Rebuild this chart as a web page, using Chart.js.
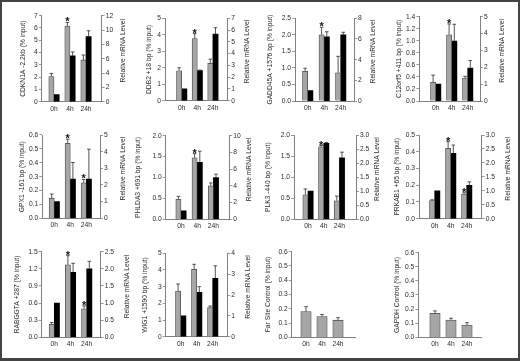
<!DOCTYPE html>
<html lang="en">
<head>
<meta charset="UTF-8">
<title>ChIP (% input) and relative mRNA over time</title>
<script src="https://cdn.jsdelivr.net/npm/chart.js"></script>
<style>
    * { margin: 0; padding: 0; box-sizing: border-box; }
    body { background: #fff; width: 520px; height: 361px; overflow: hidden; position: relative; }
    #frame { position: absolute; left: 0; top: 0; width: 520px; height: 361px; border: 2px solid #444; border-bottom-width: 3px; }
    canvas { position: absolute; }
</style>
</head>
<body>
<div id="frame"></div>
<script>
    const times = ['0h', '4h', '24h'];

    const titles = [
        'CDKN1A -2.2kb (% input)', 'DDB2 +18 bp (% input)', 'GADD45A +1576 bp (% input)', 'C12orf5 +411 bp (% input)',
        'GPX1 -161 bp (% input)', 'PHLDA3 +691 bp (% input)', 'PLK3 -440 bp (% input)', 'PRKAB1 +65 bp (% input)',
        'RABGGTA +287 (% input)', 'WIG1 +1590 bp (% input)', 'Far Site Control (% input)', 'GAPDH Control (% input)'
    ];
    const rightTitle = 'Relative mRNA Level';

    // grey bars: ChIP, % input (left axis)
    const chipVals = [
        [2.05, 6.15, 3.4], [1.82, 3.77, 2.27], [0.9, 2.0, 0.85], [0.31, 1.1, 0.38],
        [0.145, 0.54, 0.255], [0.48, 1.47, 0.8], [0.58, 1.72, 0.44], [0.108, 0.42, 0.147],
        [0.23, 1.27, 0.5], [2.74, 4.04, 1.74], [0.18, 0.145, 0.12], [0.17, 0.123, 0.087]
    ];
    const chipErr = [
        [0.25, 0.3, 0.4], [0.18, 0.3, 0.25], [0.09, 0.23, 0.5], [0.12, 0.18, 0.03],
        [0.03, 0.03, 0.025], [0.07, 0.1, 0.07], [0.14, 0.03, 0.11], [0.005, 0.04, 0.008],
        [0.03, 0.16, 0.05], [0.42, 0.3, 0.1], [0.035, 0.015, 0.018], [0.017, 0.012, 0.017]
    ];
    // black bars: relative mRNA (right axis); controls have none
    const mrnaVals = [
        [1.0, 6.4, 9.1], [1.0, 2.55, 5.65], [1.0, 6.2, 6.4], [1.0, 3.55, 1.95],
        [1.0, 2.35, 2.35], [1.0, 6.8, 5.0], [1.0, 2.7, 2.19], [1.0, 2.34, 1.2],
        [1.0, 1.9, 2.0], [1.0, 2.13, 2.8], null, null
    ];
    const mrnaErr = [
        [0, 0.55, 0.8], [0, 0.05, 0.55], [0, 0.5, 0.25], [0, 1.0, 0.45],
        [0, 1.0, 1.8], [0, 1.35, 0.4], [0, 0.03, 0.2], [0, 0.3, 0.12],
        [0, 0.26, 0.22], [0, 0.27, 0.6], null, null
    ];
    const starred = [
        [0, 1, 0], [0, 1, 0], [0, 1, 0], [0, 1, 0],
        [0, 1, 1], [0, 1, 0], [0, 1, 0], [0, 1, 1],
        [0, 1, 1], [0, 0, 0], [0, 0, 0], [0, 0, 0]
    ];

    // axis ticks: [max, step, decimals]
    const leftTicks = [
        [7, 1, 0], [5, 1, 0], [2.5, 0.5, 1], [1.4, 0.2, 1],
        [0.6, 0.1, 1], [2.0, 0.5, 1], [2.0, 0.5, 1], [0.5, 0.1, 1],
        [1.5, 0.3, 1], [5, 1, 0], [0.6, 0.1, 1], [0.6, 0.1, 1]
    ];
    const rightTicks = [
        [12, 2, 0], [7, 1, 0], [8, 2, 0], [5, 1, 0],
        [5, 1, 0], [10, 2, 0], [3.0, 0.5, 1], [3.0, 0.5, 1],
        [2.5, 0.5, 1], [4, 1, 0], null, null
    ];

    // page layout per panel: left axis x, right axis x, top y, zero y, 0h group x, group gap, title offsets
    const boxes = [
        [41.8, 101.7, 15.7, 101.7, 54, 16, 19, 21.3],
        [165, 227.3, 18.3, 100.7, 181.7, 15.6, 16, 20],
        [295, 354, 18.3, 101, 307.7, 16.5, 25, 19.3],
        [419.3, 480, 16.7, 101, 435.7, 16, 20, 22.3],
        [42.3, 100, 135, 218.3, 54.3, 16, 20, 22.7],
        [165.7, 229.3, 135.7, 219.3, 181, 16.2, 28, 19.7],
        [294, 356, 135, 219.3, 308, 15.7, 25.5, 20.7],
        [419, 481.7, 135, 218.7, 434.7, 16, 22, 26.7],
        [41.7, 100.7, 251.7, 337.3, 54.3, 16.2, 25, 26],
        [165.7, 227.3, 253.3, 336.7, 180.7, 16, 21, 21],
        [291.7, 355, 251.7, 337.3, 306, 16, 23.5, 0],
        [418.3, 481.7, 252.7, 337.3, 435, 16, 21.5, 0]
    ];

    const family = '"Liberation Sans", Arial, sans-serif';
    const ink = '#2b2b2b';
    const axisGrey = '#808080';

    // whisker caps and significance stars above the bars
    const errorBars = {
        id: 'errorBars',
        afterDatasetsDraw(chart) {
            const ctx = chart.ctx;
            chart.data.datasets.forEach((ds, i) => {
                const meta = chart.getDatasetMeta(i);
                const scale = chart.scales[ds.yAxisID];
                meta.data.forEach((bar, j) => {
                    const e = ds.err[j];
                    const yE = scale.getPixelForValue(ds.data[j].y + e);
                    ctx.save();
                    if (e > 0) {
                        ctx.strokeStyle = ink;
                        ctx.lineWidth = 0.8;
                        ctx.beginPath();
                        ctx.moveTo(bar.x, bar.y);
                        ctx.lineTo(bar.x, yE);
                        ctx.moveTo(bar.x - 1.8, yE);
                        ctx.lineTo(bar.x + 1.8, yE);
                        ctx.stroke();
                    }
                    if (ds.stars && ds.stars[j]) {
                        ctx.fillStyle = '#111';
                        ctx.font = 'bold 11px ' + family;
                        ctx.textAlign = 'center';
                        ctx.textBaseline = 'alphabetic';
                        ctx.fillText('*', bar.x, yE + 3);
                    }
                    ctx.restore();
                });
            });
        }
    };

    // both axis titles read bottom-to-top, so draw them by hand
    const sideTitles = {
        id: 'sideTitles',
        afterDraw(chart, args, opts) {
            const ctx = chart.ctx;
            const a = chart.chartArea;
            const mid = (a.top + a.bottom) / 2;
            ctx.save();
            ctx.fillStyle = ink;
            ctx.font = '6.7px ' + family;
            ctx.textAlign = 'center';
            ctx.textBaseline = 'middle';
            ctx.translate(a.left - opts.offL, mid);
            ctx.rotate(-Math.PI / 2);
            ctx.fillText(opts.left, 0, 0);
            ctx.restore();
            if (opts.right) {
                ctx.save();
                ctx.fillStyle = ink;
                ctx.font = '6.7px ' + family;
                ctx.textAlign = 'center';
                ctx.textBaseline = 'middle';
                ctx.translate(a.right + opts.offR, mid - 8);
                ctx.rotate(-Math.PI / 2);
                ctx.fillText(opts.right, 0, 0);
                ctx.restore();
            }
        }
    };

    function yScale(t, pos, w) {
        const [max, step, dec] = t;
        return {
            type: 'linear',
            position: pos,
            min: 0,
            max: max,
            afterBuildTicks: s => {
                const n = Math.round(max / step);
                s.ticks = [];
                for (let k = 0; k <= n; k++) s.ticks.push({ value: k * step });
            },
            afterFit: s => { s.width = w; },
            ticks: { callback: v => v.toFixed(dec), color: ink, font: { size: 6.7, family: family }, padding: 1, autoSkip: false },
            grid: { drawOnChartArea: false, tickLength: 3, color: axisGrey, lineWidth: 0.8 },
            border: { color: axisGrey, width: 1 }
        };
    }

    titles.forEach((title, p) => {
        const [axL, axR, top, y0, c0, gap, offL, offR] = boxes[p];
        const hasMrna = mrnaVals[p] !== null;

        const cl = Math.floor(axL - 40);
        const ct = Math.floor(top - 9);
        const cw = Math.ceil(axR + 36) - cl;
        const ch = Math.ceil(y0 + 16) - ct;
        const lw = axL - cl;
        const rw = cl + cw - axR;
        const xh = ct + ch - y0;

        const canvas = document.createElement('canvas');
        canvas.width = cw;
        canvas.height = ch;
        canvas.style.left = cl + 'px';
        canvas.style.top = ct + 'px';
        canvas.style.width = cw + 'px';
        canvas.style.height = ch + 'px';
        document.body.appendChild(canvas);

        const datasets = [{
            data: chipVals[p].map((v, i) => ({ x: i, y: v })),
            err: chipErr[p],
            stars: starred[p],
            yAxisID: 'y',
            backgroundColor: '#a6a6a6',
            borderColor: '#4d4d4d',
            borderWidth: 0.8,
            barThickness: hasMrna ? 5.2 : 10.4
        }];
        const scales = {
            x: {
                type: 'linear',
                offset: false,
                min: (axL - c0) / gap,
                max: (axR - c0) / gap,
                afterBuildTicks: s => { s.ticks = [0, 1, 2].map(v => ({ value: v })); },
                afterFit: s => { s.height = xh; },
                ticks: { callback: v => times[v], color: ink, font: { size: 6.7, family: family }, padding: 3, maxRotation: 0, autoSkip: false },
                grid: { display: false, drawTicks: false, offset: false },
                border: { color: axisGrey, width: 1 }
            },
            y: yScale(leftTicks[p], 'left', lw)
        };
        if (hasMrna) {
            datasets.push({
                data: mrnaVals[p].map((v, i) => ({ x: i, y: v })),
                err: mrnaErr[p],
                yAxisID: 'y1',
                backgroundColor: '#000',
                borderWidth: 0,
                barThickness: 5.2
            });
            scales.y1 = yScale(rightTicks[p], 'right', rw);
        }

        new Chart(canvas.getContext('2d'), {
            type: 'bar',
            data: { datasets: datasets },
            options: {
                responsive: false,
                devicePixelRatio: 1,
                animation: false,
                layout: { padding: { left: 0, top: top - ct, right: hasMrna ? 0 : rw, bottom: 0 } },
                scales: scales,
                plugins: {
                    legend: { display: false },
                    tooltip: { enabled: false },
                    sideTitles: { left: title, right: hasMrna ? rightTitle : null, offL: offL, offR: offR }
                }
            },
            plugins: [errorBars, sideTitles]
        });
    });
</script>
</body>
</html>
